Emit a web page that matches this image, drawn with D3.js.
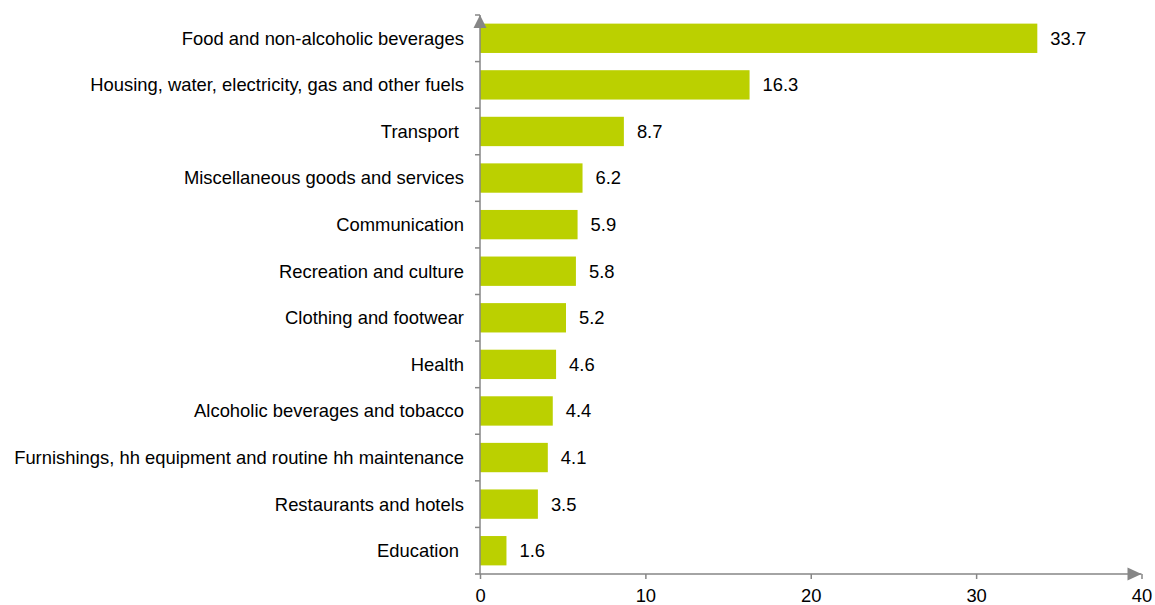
<!DOCTYPE html>
<html>
<head>
<meta charset="utf-8">
<script src="https://cdn.jsdelivr.net/npm/d3@7"></script>
<style>
  body { margin: 0; background: #fff; }
  text { font-family: "Liberation Sans", Arial, sans-serif; font-size: 18.4px; fill: #000; white-space: pre; }
</style>
</head>
<body>
<div id="chart-area"></div>
<script>
let width = 1155,
    height = 605;

// data
let categories = [
  "Food and non-alcoholic beverages",
  "Housing, water, electricity, gas and other fuels",
  "Transport ",
  "Miscellaneous goods and services",
  "Communication",
  "Recreation and culture",
  "Clothing and footwear",
  "Health",
  "Alcoholic beverages and tobacco",
  "Furnishings, hh equipment and routine hh maintenance",
  "Restaurants and hotels",
  "Education "
];
let values = [33.7, 16.3, 8.7, 6.2, 5.9, 5.8, 5.2, 4.6, 4.4, 4.1, 3.5, 1.6];
let xTicks = [0, 10, 20, 30, 40];

let mLeft = 480, mRight = 1141.5, mTop = 15, mBottom = 574;

let svg = d3.select("#chart-area").append("svg")
    .attr("width", width)
    .attr("height", height);

let x = d3.scaleLinear().domain([0, 40]).range([mLeft, mRight]);
let y = d3.scaleBand().domain(categories).range([mTop, mBottom]).paddingInner(0.37).paddingOuter(0.185);

let axisColor = "#868686";

// bars
svg.selectAll(".bar")
  .data(values)
  .enter().append("rect")
  .attr("class", "bar")
  .attr("x", x(0))
  .attr("y", (d, i) => y(categories[i]))
  .attr("width", d => x(d) - x(0))
  .attr("height", y.bandwidth())
  .attr("fill", "#bbd000");

// value labels
svg.selectAll(".val")
  .data(values)
  .enter().append("text")
  .attr("class", "val")
  .attr("x", d => x(d) + 13)
  .attr("y", (d, i) => y(categories[i]) + y.bandwidth() / 2)
  .attr("dy", "0.35em")
  .text(d => d.toFixed(1));

// category labels
svg.selectAll(".cat")
  .data(categories)
  .enter().append("text")
  .attr("class", "cat")
  .attr("x", mLeft - 16)
  .attr("y", d => y(d) + y.bandwidth() / 2)
  .attr("dy", "0.35em")
  .attr("text-anchor", "end")
  .text(d => d);

// y axis line + ticks at band edges
let step = (mBottom - mTop) / categories.length;
svg.append("line")
  .attr("x1", mLeft).attr("x2", mLeft)
  .attr("y1", mTop).attr("y2", mBottom)
  .attr("stroke", axisColor).attr("stroke-width", 1.5);
svg.selectAll(".ytick")
  .data(d3.range(categories.length + 1))
  .enter().append("line")
  .attr("class", "ytick")
  .attr("x1", mLeft - 5).attr("x2", mLeft)
  .attr("y1", d => mTop + d * step).attr("y2", d => mTop + d * step)
  .attr("stroke", axisColor).attr("stroke-width", 1.5);

// x axis
let xAxis = d3.axisBottom(x).tickValues(xTicks).tickSize(5).tickPadding(10);
let gx = svg.append("g")
  .attr("transform", `translate(0,${mBottom})`)
  .call(xAxis);
gx.select(".domain").attr("stroke", axisColor).attr("stroke-width", 1.5).attr("d", `M${mLeft},0H${mRight}`);
gx.selectAll(".tick line").attr("stroke", axisColor).attr("stroke-width", 1.5);
gx.selectAll(".tick text").attr("font-size", 18.4).attr("font-family", "Liberation Sans, Arial, sans-serif").attr("fill", "#000");

// arrows
svg.append("path")
  .attr("d", `M${mLeft - 6.5},${mTop + 13}L${mLeft},${mTop}L${mLeft + 6.5},${mTop + 13}Z`)
  .attr("fill", axisColor);
svg.append("path")
  .attr("d", `M${mRight - 14},${mBottom - 6.5}L${mRight},${mBottom}L${mRight - 14},${mBottom + 6.5}Z`)
  .attr("fill", axisColor);
</script>
</body>
</html>
